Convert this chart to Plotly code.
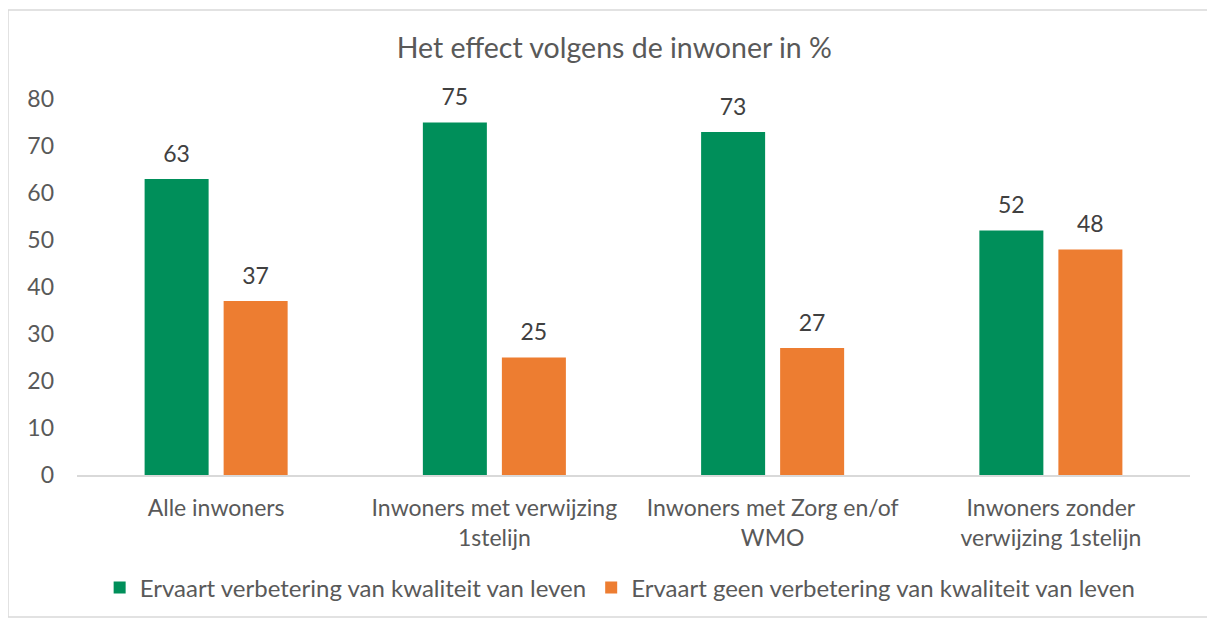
import plotly.graph_objects as go

categories = ["Alle inwoners", "Inwoners met verwijzing<br>1stelijn",
              "Inwoners met Zorg en/of<br>WMO", "Inwoners zonder<br>verwijzing 1stelijn"]
series_names = ["Ervaart verbetering van kwaliteit van leven",
                "Ervaart geen verbetering van kwaliteit van leven"]
verbetering = [63, 75, 73, 52]
geen_verbetering = [37, 25, 27, 48]
y_ticks = [0, 10, 20, 30, 40, 50, 60, 70, 80]

FONT = "Lato"
TXT = "#595959"
colors = ["#008F5A", "#ED7D31"]

fig = go.Figure()
for i, (name, vals, col) in enumerate(zip(series_names, [verbetering, geen_verbetering], colors)):
    fig.add_trace(go.Bar(
        x=categories, y=vals, name=name, marker_color=col, marker_line_width=0,
        offsetgroup=str(i),
    ))
for i, vals in enumerate([verbetering, geen_verbetering]):
    fig.add_trace(go.Scatter(
        x=categories, y=vals, mode="text+markers", offsetgroup=str(i),
        marker=dict(size=17, opacity=0), text=[str(v) for v in vals],
        textposition="top center", showlegend=False, hoverinfo="skip",
        textfont=dict(family=FONT, size=23, color="#404040"), cliponaxis=False,
    ))

W, H = 1215, 620
ml, mr, mt, mb = 69, 33, 91, 153
pw = W - ml - mr
ph = H - mt - mb

def px_x(p):
    return (p - ml) / pw

def px_y(p):
    return (H - mb - p) / ph

fig.update_layout(
    width=W, height=H,
    margin=dict(l=ml, r=mr, t=mt, b=mb),
    paper_bgcolor="white", plot_bgcolor="white",
    barmode="group", bargap=0.432, bargroupgap=0.19,
    scattermode="group", scattergap=0.432,
    title=dict(text="Het effect volgens de inwoner in %", x=0.499, xanchor="center",
               y=1 - 40 / H, yanchor="middle",
               font=dict(family=FONT, size=28.5, color=TXT)),
    font=dict(family=FONT, color=TXT),
    showlegend=True,
    legend=dict(orientation="h", x=0.488, xanchor="center", y=px_y(580), yanchor="middle",
                font=dict(family=FONT, size=24, color=TXT), itemwidth=30,
                traceorder="normal"),
)
fig.update_yaxes(range=[0, 80], tickvals=y_ticks, showgrid=False, zeroline=False,
                 showline=False, ticks="", ticklabelstandoff=22,
                 tickfont=dict(family=FONT, size=23, color=TXT))
fig.update_xaxes(showline=True, linecolor="#D9D9D9", linewidth=2, ticks="",
                 ticklabelstandoff=11,
                 tickfont=dict(family=FONT, size=23, color=TXT))

fig.add_shape(type="rect", xref="paper", yref="paper",
              x0=px_x(0), x1=px_x(1205), y0=px_y(609), y1=px_y(2),
              line=dict(color="#D9D9D9", width=1.5), layer="below")

fig.write_html("out.html")
